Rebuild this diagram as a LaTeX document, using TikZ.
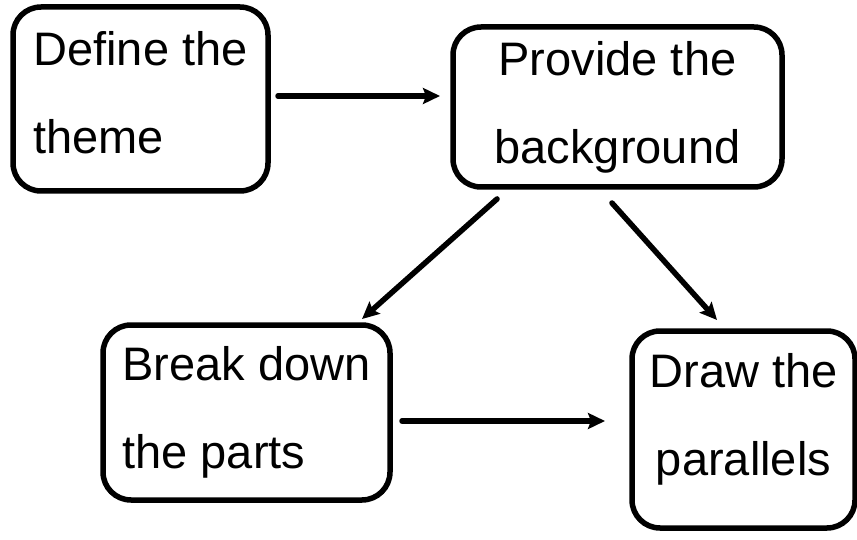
\documentclass[tikz,border=0pt]{standalone}
\usepackage{fontspec}
\setmainfont{Liberation Sans}
\usetikzlibrary{arrows.meta}

\begin{document}
\begin{tikzpicture}[x=1pt,y=-1pt,
    stagebox/.style={draw,line width=5.5pt,rounded corners=28pt,inner sep=0pt,
        outer sep=0pt,font=\fontsize{47}{88}\selectfont},
    flow/.style={line width=5.5pt,line cap=round,
        -{Stealth[length=17pt,width=16pt,inset=3pt]}}]
    \useasboundingbox (0,0) rectangle (857,540);
    \node[stagebox,align=left,minimum width=255pt,minimum height=184pt,
        text depth=14pt] (define) at (140.5,99) {Define the\\theme};
    \node[stagebox,align=center,minimum width=329pt,minimum height=160pt]
        (provide) at (617.5,107) {Provide the\\background};
    \node[stagebox,align=left,minimum width=287pt,minimum height=175pt]
        (breakdown) at (246.5,412.5) {Break down\\the parts};
    \node[stagebox,align=center,minimum width=223pt,minimum height=197pt,
        text depth=30pt] (parallels) at (743.5,429.5) {Draw the\\parallels};
    \draw[flow,shorten <=10pt,shorten >=13pt] ([yshift=3pt]define.east)
        -- ([yshift=3pt]define.east -| provide.west);
    \draw[flow,shorten <=18pt,shorten >=9pt] ([xshift=57.5pt]provide.south west)
        -- ([xshift=-34.7pt]breakdown.north east);
    \draw[flow,shorten <=21.5pt,shorten >=14.8pt] ([xshift=144.6pt]provide.south west)
        -- ([xshift=94.9pt]parallels.north west);
    \draw[flow,shorten <=12pt,shorten >=27pt] ([yshift=-8.5pt]breakdown.east)
        -- ([yshift=-8.5pt]breakdown.east -| parallels.west);
\end{tikzpicture}
\end{document}
